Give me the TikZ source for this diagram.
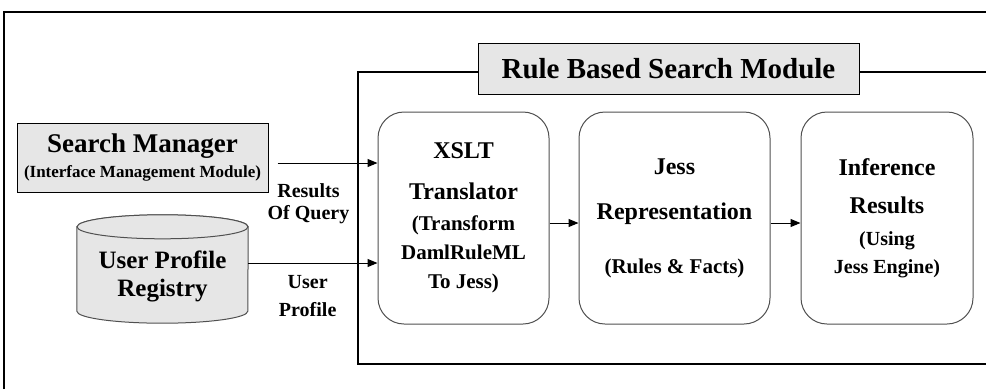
\documentclass[tikz,border=0pt]{standalone}
\usepackage{fontspec}
\setmainfont{Liberation Serif}
\usepackage{xcolor}
\definecolor{PanelGray}{HTML}{E6E6E6}
\definecolor{EdgeGray}{HTML}{505050}
\usetikzlibrary{arrows.meta,positioning,backgrounds}

\begin{document}
\begin{tikzpicture}[x=1pt, y=-1pt, node distance=29pt, >={Triangle[length=10pt,width=8pt]},
    stage/.style={draw=EdgeGray, line width=1pt, rounded corners=26pt, minimum height=212pt, inner sep=0pt, align=center, font=\bfseries\fontsize{21}{29}\selectfont},
    lbl/.style={inner sep=0pt, align=center, font=\bfseries\fontsize{20}{22}\selectfont}]
    \useasboundingbox (0,0) rectangle (986,389);
    % Frames
    \draw [line width=1.3pt] (4,389) -- (4,12) -- (986,12);
    \draw [line width=1.3pt] (986,72) -- (358,72) -- (358,364) -- (986,364);

    % Module nodes
    \node [draw, line width=1pt, fill=PanelGray, minimum width=381pt, minimum height=51pt, inner sep=0pt, font=\bfseries\fontsize{29}{30}\selectfont] (title) at (668.5,68.5) {Rule Based Search Module};
    \node [stage, minimum width=171pt] (xslt) at (463.5,218) {{\fontsize{24}{29}\selectfont XSLT}\\[12pt]{\fontsize{24}{29}\selectfont Translator}\\[2pt](Transform\\DamlRuleML\\To Jess)};
    \node [stage, minimum width=191pt, right=of xslt] (jess) {{\fontsize{24}{29}\selectfont Jess}\\[16pt]{\fontsize{24}{29}\selectfont Representation}\\[25pt](Rules \& Facts)};
    \node [stage, minimum width=172pt, right=30pt of jess] (infer) {{\fontsize{24}{29}\selectfont Inference}\\[9pt]{\fontsize{24}{29}\selectfont Results}\\[3pt]{\fontsize{20}{29}\selectfont (Using}\\[-1pt]{\fontsize{20}{29}\selectfont Jess Engine)}};

    % Sources
    \node [draw, line width=1pt, fill=PanelGray, minimum width=251pt, minimum height=69pt, inner sep=0pt, align=center, font=\bfseries\fontsize{17}{25}\selectfont] (search) at (142.5,157.5) {{\fontsize{27}{25}\selectfont Search Manager}\\(Interface Management Module)};
    \node [minimum width=171pt, minimum height=94pt, inner sep=0pt, align=center, font=\bfseries\fontsize{25}{28}\selectfont] (registry) at (162.5,276) {User Profile\\Registry};
    \begin{scope}[on background layer]
        \path [draw=EdgeGray, line width=1pt, fill=PanelGray] ([yshift=2pt]registry.north west) -- ([yshift=12pt]registry.south west) arc [start angle=180, end angle=360, x radius=85.5pt, y radius=12pt] -- ([yshift=2pt]registry.north east) arc [start angle=0, end angle=180, x radius=85.5pt, y radius=12pt] -- cycle;
        \path [draw=EdgeGray, line width=1pt, fill=PanelGray] ([yshift=2pt]registry.north) ellipse [x radius=85.5pt, y radius=12pt];
    \end{scope}

    % Paths
    \path [draw, ->, line width=1pt] ([xshift=9pt,yshift=-5.5pt]search.east) -- node [lbl, pos=0.31, below=20pt] {Results\\Of Query} ([yshift=-5.5pt]search.east -| xslt.west);
    \path [draw, ->, line width=1pt] ([yshift=13pt]registry.east) -- node [lbl, pos=0.46, below=12pt] {User\\[6pt]Profile} ([yshift=13pt]registry.east -| xslt.west);
    \path [draw, ->, line width=1pt] ([yshift=-5pt]xslt.east) -- ([yshift=-5pt]jess.west);
    \path [draw, ->, line width=1pt] ([yshift=-5pt]jess.east) -- ([yshift=-5pt]infer.west);
\end{tikzpicture}
\end{document}
